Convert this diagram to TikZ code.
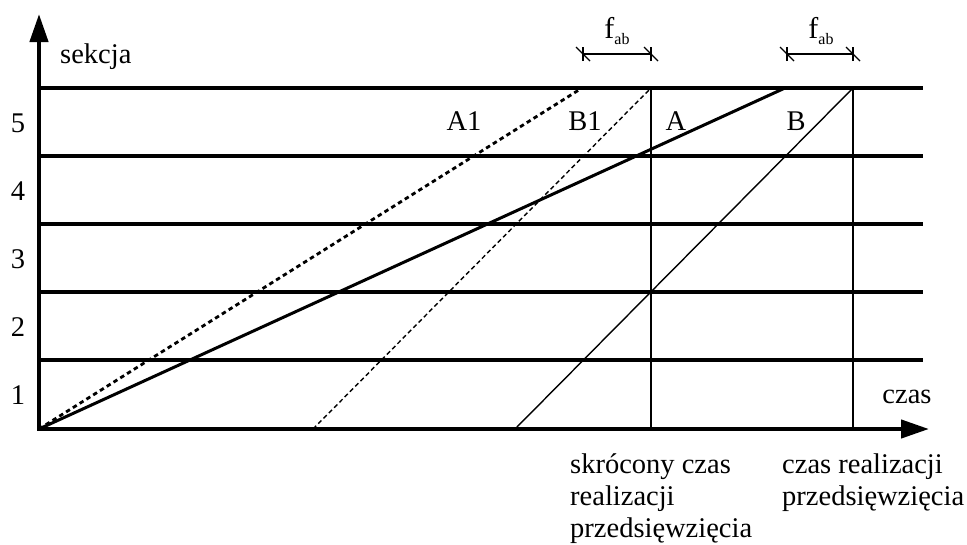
\documentclass[tikz,border=0pt]{standalone}
\usepackage{fontspec}
\setmainfont{Liberation Serif}
\usetikzlibrary{arrows.meta}
\begin{document}
\begin{tikzpicture}[x=1pt,y=-1pt,
  font=\fontsize{28.5}{32}\selectfont,
  lbl/.style={inner sep=0pt, anchor=base},
  axis/.style={line width=4.3pt, -{Triangle[length=28pt,width=18pt]}},
  gridline/.style={line width=3.2pt},
  vline/.style={line width=2.2pt},
  thickline/.style={line width=3pt},
  thinline/.style={line width=1.4pt},
  thickdot/.style={line width=2.8pt, dash pattern=on 4.5pt off 3.5pt},
  thindot/.style={line width=1.4pt, dash pattern=on 4.5pt off 3pt},
  dimline/.style={line width=1.1pt}]
\useasboundingbox (0,0) rectangle (967,544);
% axes
\coordinate (O) at (39,429);
\coordinate (Ytip) at (39,14);
\coordinate (Xtip) at (929,429);
% grid lines
\foreach \y/\n in {88/g5,156/g4,224/g3,292/g2,360/g1}{
  \coordinate (\n L) at (39,\y);
  \coordinate (\n R) at (923,\y);
  \draw[gridline] (\n L) -- (\n R);
}
\draw[axis] (O) -- (Ytip);
\draw[axis] ([xshift=-2pt]O) -- (Xtip);
% vertical lines
\coordinate (VAt) at (651,88);
\coordinate (VAb) at (651,429);
\coordinate (VBt) at (853,88);
\coordinate (VBb) at (853,429);
\draw[vline] (VAt) -- (VAb);
\draw[vline] (VBt) -- (VBb);
% schedule lines
\coordinate (Atop) at (785,88);
\coordinate (Bbot) at (515,429);
\coordinate (A1top) at (582,88);
\coordinate (B1bot) at (313,429);
\draw[thickline] (O) -- (Atop);
\draw[thinline] (Bbot) -- (VBt);
\draw[thickdot] (O) -- (A1top);
\draw[thindot] (B1bot) -- (VAt);
% f_ab dimension markers
\foreach \a/\b/\n in {583/651/d1,787/853/d2}{
  \coordinate (\n a) at (\a,54);
  \coordinate (\n b) at (\b,54);
  \draw[dimline] (\n a) -- (\n b);
  \draw[dimline] ([yshift=-7pt]\n a) -- ([yshift=7pt]\n a);
  \draw[dimline] ([shift={(-7pt,7pt)}]\n a) -- ([shift={(7pt,-7pt)}]\n a);
  \draw[dimline] ([yshift=-7pt]\n b) -- ([yshift=7pt]\n b);
  \draw[dimline] ([shift={(-7pt,7pt)}]\n b) -- ([shift={(7pt,-7pt)}]\n b);
}
\node[lbl] (fab1) at (617,38) {\fontsize{30}{30}\selectfont f\raisebox{-6pt}{\fontsize{16}{16}\selectfont ab}};
\node[lbl] (fab2) at (821,38) {\fontsize{30}{30}\selectfont f\raisebox{-6pt}{\fontsize{16}{16}\selectfont ab}};
% labels
\node[lbl, anchor=base west] (sek) at (60,63) {sekcja};
\foreach \t/\y in {5/132,4/200,3/268,2/336,1/404}{
  \node[lbl] (n\t) at (18,\y) {\t};
}
\node[lbl] (czas) at (907,403) {czas};
\node[lbl] (lA1) at (464,130) {A1};
\node[lbl] (lB1) at (585,130) {B1};
\node[lbl] (lA) at (676,130) {A};
\node[lbl] (lB) at (796,130) {B};
\node[lbl, anchor=base west] (s1) at (570,473) {skrócony czas};
\node[lbl, anchor=base west] (s2) at (570,505) {realizacji};
\node[lbl, anchor=base west] (s3) at (570,537) {przedsięwzięcia};
\node[lbl, anchor=base west] (c1) at (782,473) {czas realizacji};
\node[lbl, anchor=base west] (c2) at (782,505) {przedsięwzięcia};
\end{tikzpicture}
\end{document}
